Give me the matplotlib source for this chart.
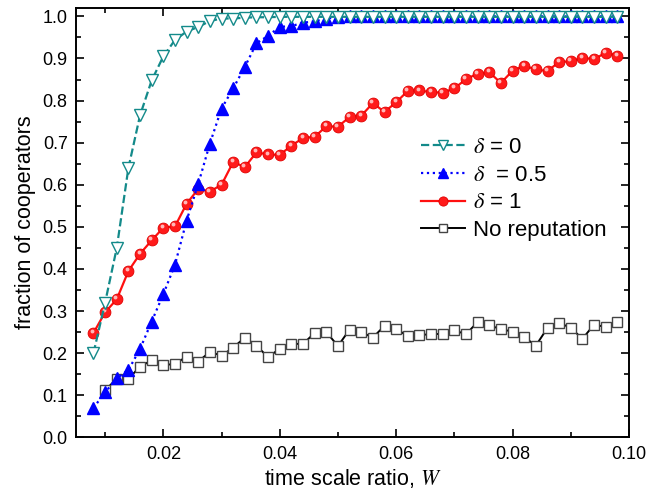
import matplotlib
matplotlib.use("Agg")
import matplotlib.pyplot as plt
import matplotlib.transforms as mtransforms
from matplotlib.ticker import MultipleLocator, FormatStrFormatter

plt.rcParams['font.family'] = ['Liberation Sans', 'DejaVu Sans']
plt.rcParams['mathtext.fontset'] = 'stix'

# x grid (time scale ratio W)
w_all = [0.008, 0.010, 0.012, 0.014, 0.016, 0.018, 0.020, 0.022, 0.024, 0.026,
         0.028, 0.030, 0.032, 0.034, 0.036, 0.038, 0.040, 0.042, 0.044, 0.046,
         0.048, 0.050, 0.052, 0.054, 0.056, 0.058, 0.060, 0.062, 0.064, 0.066,
         0.068, 0.070, 0.072, 0.074, 0.076, 0.078, 0.080, 0.082, 0.084, 0.086,
         0.088, 0.090, 0.092, 0.094, 0.096, 0.098]
w_norep = w_all[1:]

delta0 = [0.200, 0.320, 0.450, 0.640, 0.765, 0.848, 0.905, 0.944, 0.964, 0.975,
          0.989, 0.995, 0.995, 0.997, 0.998, 0.998, 0.999, 0.999, 0.999, 0.999,
          0.999, 0.999, 0.999, 0.999, 0.999, 0.999, 0.999, 0.999, 0.999, 0.999,
          0.999, 0.999, 0.999, 0.999, 0.999, 0.999, 0.999, 0.999, 0.999, 0.999,
          0.999, 0.999, 0.999, 0.999, 0.999, 0.999]
delta05 = [0.070, 0.107, 0.140, 0.160, 0.210, 0.275, 0.340, 0.410, 0.515, 0.602,
           0.698, 0.781, 0.829, 0.880, 0.936, 0.954, 0.975, 0.977, 0.985, 0.988,
           0.995, 0.998, 1.000, 1.000, 1.000, 1.000, 1.000, 1.000, 1.000, 1.000,
           1.000, 1.000, 1.000, 1.000, 1.000, 1.000, 1.000, 1.000, 1.000, 1.000,
           1.000, 1.000, 1.000, 1.000, 1.000, 1.000]
delta1 = [0.248, 0.297, 0.328, 0.395, 0.436, 0.468, 0.498, 0.501, 0.555, 0.590,
          0.584, 0.600, 0.654, 0.642, 0.677, 0.672, 0.671, 0.693, 0.711, 0.714,
          0.739, 0.738, 0.761, 0.764, 0.794, 0.773, 0.796, 0.823, 0.824, 0.820,
          0.819, 0.829, 0.851, 0.864, 0.867, 0.842, 0.871, 0.883, 0.874, 0.870,
          0.892, 0.893, 0.902, 0.898, 0.914, 0.907]
norep = [0.112, 0.139, 0.139, 0.168, 0.183, 0.172, 0.174, 0.192, 0.180, 0.203,
         0.194, 0.213, 0.237, 0.218, 0.190, 0.211, 0.222, 0.222, 0.248, 0.250,
         0.217, 0.256, 0.250, 0.237, 0.265, 0.258, 0.240, 0.242, 0.246, 0.245,
         0.254, 0.245, 0.274, 0.266, 0.257, 0.251, 0.238, 0.218, 0.260, 0.272,
         0.260, 0.234, 0.268, 0.262, 0.274]

labels = [r"$\delta$ = 0", r"$\delta$  = 0.5", r"$\delta$ = 1", "No reputation"]

fig = plt.figure(figsize=(6.48, 4.96), dpi=100)
ax = fig.add_axes([0.1173, 0.1183, 0.8534, 0.8656])

teal = '#138a8a'
ax.plot(w_norep, norep, '-', color='black', lw=1.4, marker='s', ms=6.5,
        mfc='white', mec='#444444', mew=1.0, label=labels[3], zorder=2)
ax.plot(w_all, delta1, '-', color='#ff1010', lw=1.6, marker='o', ms=7.8,
        mfc='#ff1a1a', mec='#e00000', mew=0.6, label=labels[2], zorder=3)
# shine highlight on red balls
hl = mtransforms.offset_copy(ax.transData, fig=fig, x=-1.1, y=1.4, units='points')
ax.plot(w_all, delta1, 'o', ms=2.8, mfc='#ffb8b8', mec='none', transform=hl, zorder=3.5)
ax.plot(w_all, delta05, ':', color='#0000ff', lw=1.6, marker='^', ms=8,
        mfc='#0000ff', mec='#0000ff', label=labels[1], zorder=4)
ax.plot(w_all, delta0, '--', color=teal, lw=1.6, marker='v', ms=8.2,
        mfc='white', mec=teal, mew=1.0, label=labels[0], zorder=5)

ax.set_xlim(0.005, 0.10)
ax.set_ylim(0.0, 1.02)
ax.xaxis.set_major_locator(MultipleLocator(0.02))
ax.xaxis.set_minor_locator(MultipleLocator(0.01))
ax.yaxis.set_major_locator(MultipleLocator(0.1))
ax.yaxis.set_minor_locator(MultipleLocator(0.05))
ax.xaxis.set_major_formatter(FormatStrFormatter('%.2f'))
ax.yaxis.set_major_formatter(FormatStrFormatter('%.1f'))
ax.tick_params(which='both', direction='in', top=True, right=True, width=1.2)
ax.tick_params(which='major', length=6, labelsize=13, pad=6)
ax.tick_params(which='minor', length=3.5)
for s in ax.spines.values():
    s.set_linewidth(1.4)

ax.set_xlabel(r"time scale ratio, $W$", fontsize=15.5, labelpad=3)
ax.set_ylabel("fraction of cooperators", fontsize=15.5, labelpad=5)

handles, labs = ax.get_legend_handles_labels()
order = [labs.index(l) for l in labels]
leg = ax.legend([handles[i] for i in order], [labs[i] for i in order],
                loc='upper left', bbox_to_anchor=(0.607, 0.72), frameon=False,
                prop={'size': 16}, markerscale=0.85,
                handlelength=2.0, handletextpad=0.35, labelspacing=0.3,
                borderaxespad=0.0)

fig.savefig("out.png", dpi=100)
